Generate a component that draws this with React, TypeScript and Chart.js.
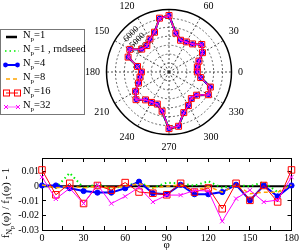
import React, { useEffect, useRef } from 'react';
import { Chart, registerables } from 'chart.js';

Chart.register(...registerables);

const SERIF = "'Liberation Serif', 'DejaVu Serif', serif";

// ---- ratio panel data (phi in degrees) ----
const PHI = [0, 10, 20, 30, 40, 50, 60, 70, 80, 90, 100, 110, 120, 130, 140, 150, 160, 170, 180];
const RATIO_NP1 = [0, 0, 0, 0, 0, 0, 0, 0, 0, 0, 0, 0, 0, 0, 0, 0, 0, 0, 0];
const RATIO_NP1_RND = [0.001, -0.001, 0.0092, -0.001, 0.0015, -0.0015, 0.0005, 0.0025, -0.001, 0.0025, 0.002, 0.0005, 0.0035, -0.001, 0.001, 0.0, 0.003, -0.004, 0.001];
const RATIO_NP4 = [0.0006, 0.0006, -0.0013, -0.0032, -0.0043, -0.0043, -0.0013, 0.0032, -0.0047, -0.0054, 0.0011, -0.0054, -0.0054, -0.0039, 0.0011, -0.0096, 0.0006, -0.0069, 0.0006];
const RATIO_NP8 = [0.001, -0.001, 0.0, -0.001, 0.0, -0.001, 0.0, 0.002, -0.001, 0.0, 0.001, -0.003, 0.0, -0.004, 0.001, -0.005, -0.004, -0.004, 0.001];
const RATIO_NP16 = [0.0113, -0.0058, 0.0021, -0.0118, 0.0006, -0.0026, 0.0026, -0.0039, -0.0047, -0.0058, 0.0021, -0.0039, -0.0011, -0.0154, 0.0021, -0.0096, 0.0006, -0.0107, 0.0113];
const RATIO_NP32 = [0.0064, -0.0086, -0.0013, -0.0118, 0.0011, -0.0118, -0.0069, -0.0006, -0.0107, -0.006, -0.006, -0.0028, -0.0032, -0.024, -0.0084, -0.0026, -0.0107, -0.0094, 0.0064];

// ---- polar panel data: f_1(phi), phi = 0..350 step 10 ----
const POLAR_PHI = [0, 10, 20, 30, 40, 50, 60, 70, 80, 90, 100, 110, 120, 130, 140, 150, 160, 170,
  180, 190, 200, 210, 220, 230, 240, 250, 260, 270, 280, 290, 300, 310, 320, 330, 340, 350];
const POLAR_F1 = [3140, 3240, 3560, 4380, 4790, 4120, 3880, 3800, 4440, 6370, 6110, 4760, 4270, 3920, 3980, 5120, 4870, 3620,
  3060, 3320, 3620, 4370, 4820, 4090, 3920, 3840, 4480, 6380, 6160, 4860, 4350, 3950, 4030, 5140, 4930, 3640];

const ANGLE_LABELS = [0, 30, 60, 90, 120, 150, 180, 210, 240, 270, 300, 330];
const RADIAL_LABELS = [4000, 5000, 6000];
const X_LABELS = [0, 30, 60, 90, 120, 150, 180];
const Y_LABELS = [0.01, 0, -0.01, -0.02, -0.03];

// angular slots of the radar (every 5 degrees, clockwise, starting at 135 deg)
const POLAR_SLOTS = Array.from({ length: 72 }, (_, i) => (((135 - 5 * i) % 360) + 360) % 360);

type Series = {
  sub: string;
  ratio: number[];
  color: string;
  width: number;
  dash: number[];
  pointStyle: any;
  radius: number;
  polarRadius: number;
  fill: string;
};

const SERIES: Series[] = [
  { sub: '=1', ratio: RATIO_NP1, color: '#000000', width: 2, dash: [], pointStyle: 'circle', radius: 0, polarRadius: 0, fill: '#000000' },
  { sub: '=1 , rndseed', ratio: RATIO_NP1_RND, color: '#00ee00', width: 2, dash: [1.5, 3], pointStyle: 'circle', radius: 0, polarRadius: 0, fill: '#00ee00' },
  { sub: '=4', ratio: RATIO_NP4, color: '#0000ff', width: 2, dash: [], pointStyle: 'circle', radius: 2.6, polarRadius: 2.2, fill: '#0000ff' },
  { sub: '=8', ratio: RATIO_NP8, color: '#ffa500', width: 1.5, dash: [4, 3], pointStyle: 'circle', radius: 0, polarRadius: 0, fill: '#ffa500' },
  { sub: '=16', ratio: RATIO_NP16, color: '#ff0000', width: 1, dash: [], pointStyle: 'rect', radius: 4.6, polarRadius: 4.2, fill: 'rgba(0,0,0,0)' },
  { sub: '=32', ratio: RATIO_NP32, color: '#ff00ff', width: 1, dash: [], pointStyle: 'crossRot', radius: 3, polarRadius: 2.6, fill: '#ff00ff' },
];

function polarValues(ratio: number[]) {
  return POLAR_SLOTS.map((phi) => {
    const k = POLAR_PHI.indexOf(phi);
    if (k < 0) return null;
    return POLAR_F1[k] * (1 + ratio[k % 18]);
  });
}

function isLabelled(v: number, list: number[]) {
  return list.some((l) => Math.abs(l - v) < 1e-9);
}

function PolarChart() {
  const ref = useRef<HTMLCanvasElement | null>(null);
  useEffect(() => {
    if (!ref.current) return;
    const chart = new Chart(ref.current, {
      type: 'radar',
      data: {
        labels: POLAR_SLOTS.map((p) => String(p)),
        datasets: SERIES.map((s, idx) => ({
          data: polarValues(s.ratio),
          borderColor: s.color,
          borderWidth: s.width,
          borderDash: s.dash,
          backgroundColor: s.fill,
          fill: false,
          spanGaps: true,
          tension: 0,
          pointStyle: s.pointStyle,
          pointRadius: s.polarRadius,
          pointBorderColor: s.color,
          pointBackgroundColor: s.fill,
          pointBorderWidth: 1,
          order: 5 - idx,
        })) as any,
      },
      options: {
        animation: false,
        responsive: false,
        maintainAspectRatio: false,
        events: [],
        layout: { padding: 0 },
        plugins: { legend: { display: false }, tooltip: { enabled: false } },
        scales: {
          r: {
            min: 0,
            max: 7000,
            startAngle: -45,
            ticks: {
              stepSize: 1000,
              showLabelBackdrop: false,
              backdropPadding: 0,
              color: '#000',
              font: { family: SERIF, size: 9 },
              callback: (v: any) => (isLabelled(Number(v), RADIAL_LABELS) ? String(v) : ''),
            },
            grid: {
              circular: true,
              color: (ctx: any) => (ctx.tick && ctx.tick.value >= 7000 ? '#000' : '#444'),
              lineWidth: (ctx: any) => (ctx.tick && ctx.tick.value >= 7000 ? 1.5 : 0.8),
            },
            border: {
              dash: (ctx: any) => (ctx.tick && ctx.tick.value >= 7000 ? [] : [2, 2]),
            } as any,
            angleLines: {
              borderDash: [2, 2],
              lineWidth: 0.8,
              color: (ctx: any) => (isLabelled(POLAR_SLOTS[ctx.index], ANGLE_LABELS) ? '#222' : 'rgba(0,0,0,0)'),
            },
            pointLabels: {
              padding: 2,
              color: '#000',
              font: { family: SERIF, size: 10 },
              callback: (label: any, index: number) => (isLabelled(POLAR_SLOTS[index], ANGLE_LABELS) ? String(POLAR_SLOTS[index]) : ''),
            },
          },
        },
      } as any,
    });
    return () => chart.destroy();
  }, []);
  return (
    <canvas
      ref={ref}
      width={200}
      height={162}
      style={{ position: 'absolute', left: 69, top: -9, width: 200, height: 162 }}
    />
  );
}

function RatioChart() {
  const ref = useRef<HTMLCanvasElement | null>(null);
  useEffect(() => {
    if (!ref.current) return;
    const tickFont = { family: SERIF, size: 10 };
    const gridBase = { drawOnChartArea: false, tickLength: -4, color: '#000', lineWidth: 1 };
    const chart = new Chart(ref.current, {
      type: 'line',
      data: {
        datasets: SERIES.map((s, idx) => ({
          data: PHI.map((x, i) => ({ x, y: s.ratio[i] })),
          borderColor: s.color,
          borderWidth: s.width,
          borderDash: s.dash,
          backgroundColor: s.fill,
          fill: false,
          tension: 0,
          pointStyle: s.pointStyle,
          pointRadius: s.radius,
          pointBorderColor: s.color,
          pointBackgroundColor: s.fill,
          pointBorderWidth: 1,
          clip: false,
          order: 5 - idx,
        })) as any,
      },
      options: {
        animation: false,
        responsive: false,
        maintainAspectRatio: false,
        events: [],
        layout: { padding: 0 },
        plugins: { legend: { display: false }, tooltip: { enabled: false } },
        scales: {
          x: {
            type: 'linear',
            position: 'bottom',
            min: 0,
            max: 180,
            ticks: {
              stepSize: 15,
              autoSkip: false,
              maxRotation: 0,
              padding: 6,
              color: '#000',
              font: tickFont,
              callback: (v: any) => (isLabelled(Number(v), X_LABELS) ? String(v) : ''),
            },
            grid: gridBase,
            border: { color: '#000', width: 1 },
            title: { display: true, text: 'φ', color: '#000', font: { family: SERIF, size: 11 }, padding: 0 },
            afterFit: (s: any) => { s.height = 22; },
          },
          x2: {
            type: 'linear',
            position: 'top',
            min: 0,
            max: 180,
            ticks: { stepSize: 15, display: false },
            grid: gridBase,
            border: { color: '#000', width: 1 },
            afterFit: (s: any) => { s.height = 8; },
          },
          y: {
            type: 'linear',
            position: 'left',
            min: -0.03,
            max: 0.0195,
            ticks: {
              stepSize: 0.01,
              autoSkip: false,
              padding: 7,
              color: '#000',
              font: tickFont,
              callback: (v: any) => {
                const n = Number(v);
                const r = Math.round(n * 100);
                if (Math.abs(n * 100 - r) > 1e-6 || !isLabelled(r / 100, Y_LABELS)) return '';
                return r === 0 ? '0' : String(r / 100);
              },
            },
            grid: gridBase,
            border: { color: '#000', width: 1 },
            afterFit: (s: any) => { s.width = 42; },
          },
          y2: {
            type: 'linear',
            position: 'right',
            min: -0.03,
            max: 0.0195,
            ticks: { stepSize: 0.01, display: false },
            grid: gridBase,
            border: { color: '#000', width: 1 },
            afterFit: (s: any) => { s.width = 8; },
          },
        },
      } as any,
    });
    return () => chart.destroy();
  }, []);
  return (
    <canvas
      ref={ref}
      width={305}
      height={107}
      style={{ position: 'absolute', left: 0, top: 145, width: 305, height: 107 }}
    />
  );
}

function LegendSymbol({ index }: { index: number }) {
  const s = SERIES[index];
  const y = 5;
  if (index === 0) {
    return (
      <svg width={18} height={10}>
        <line x1={3} y1={y} x2={14} y2={y} stroke="#000" strokeWidth={2.5} />
      </svg>
    );
  }
  if (index === 1) {
    return (
      <svg width={18} height={10}>
        <line x1={2} y1={y} x2={16} y2={y} stroke={s.color} strokeWidth={1.5} strokeDasharray="1.5,3" />
      </svg>
    );
  }
  if (index === 2) {
    return (
      <svg width={18} height={10}>
        <line x1={2} y1={y} x2={15} y2={y} stroke={s.color} strokeWidth={2} />
        <circle cx={2.5} cy={y} r={2.4} fill={s.color} />
        <circle cx={14.5} cy={y} r={2.4} fill={s.color} />
      </svg>
    );
  }
  if (index === 3) {
    return (
      <svg width={18} height={10}>
        <line x1={3} y1={y} x2={17} y2={y} stroke={s.color} strokeWidth={1.5} strokeDasharray="4,3" />
      </svg>
    );
  }
  if (index === 4) {
    return (
      <svg width={18} height={10}>
        <line x1={3} y1={y} x2={15} y2={y} stroke={s.color} strokeWidth={1} />
        <rect x={0.5} y={y - 3} width={6} height={6} fill="none" stroke={s.color} strokeWidth={1} />
        <rect x={11.5} y={y - 3} width={6} height={6} fill="none" stroke={s.color} strokeWidth={1} />
      </svg>
    );
  }
  return (
    <svg width={18} height={10}>
      <line x1={3} y1={y} x2={15} y2={y} stroke="#ff99ff" strokeWidth={1.5} />
      <path d={`M1 ${y - 2} L5 ${y + 2} M1 ${y + 2} L5 ${y - 2}`} stroke={s.color} strokeWidth={1} />
      <path d={`M13 ${y - 2} L17 ${y + 2} M13 ${y + 2} L17 ${y - 2}`} stroke={s.color} strokeWidth={1} />
    </svg>
  );
}

function Legend() {
  return (
    <div
      style={{
        position: 'absolute',
        left: 0,
        top: 29,
        width: 83,
        height: 84,
        border: '1px solid #777',
        background: '#fff',
        fontFamily: SERIF,
        fontSize: 10.5,
        color: '#000',
      }}
    >
      {SERIES.map((s, i) => (
        <div
          key={i}
          style={{
            position: 'absolute',
            left: 2,
            top: 0 + i * 14,
            height: 14,
            display: 'flex',
            alignItems: 'center',
            whiteSpace: 'nowrap',
          }}
        >
          <LegendSymbol index={i} />
          <span style={{ marginLeft: 2, lineHeight: '14px' }}>
            N<span style={{ fontSize: 7, verticalAlign: '-3px' }}>p</span>
            {s.sub}
          </span>
        </div>
      ))}
    </div>
  );
}

function YTitle() {
  return (
    <div
      style={{
        position: 'absolute',
        left: 8,
        top: 203,
        transform: 'translate(-50%, -50%) rotate(-90deg)',
        whiteSpace: 'nowrap',
        fontFamily: SERIF,
        fontSize: 11,
        color: '#000',
        lineHeight: '12px',
      }}
    >
      f
      <span style={{ fontSize: 8, verticalAlign: '-3px' }}>
        N<span style={{ fontSize: 6, verticalAlign: '-2px' }}>p</span>
      </span>
      (φ) / f<span style={{ fontSize: 8, verticalAlign: '-3px' }}>1</span>(φ) - 1
    </div>
  );
}

export default function App() {
  return (
    <div style={{ position: 'absolute', left: 0, top: 0, width: 305, height: 252, background: '#fff', overflow: 'hidden' }}>
      <RatioChart />
      <PolarChart />
      <Legend />
      <YTitle />
    </div>
  );
}
